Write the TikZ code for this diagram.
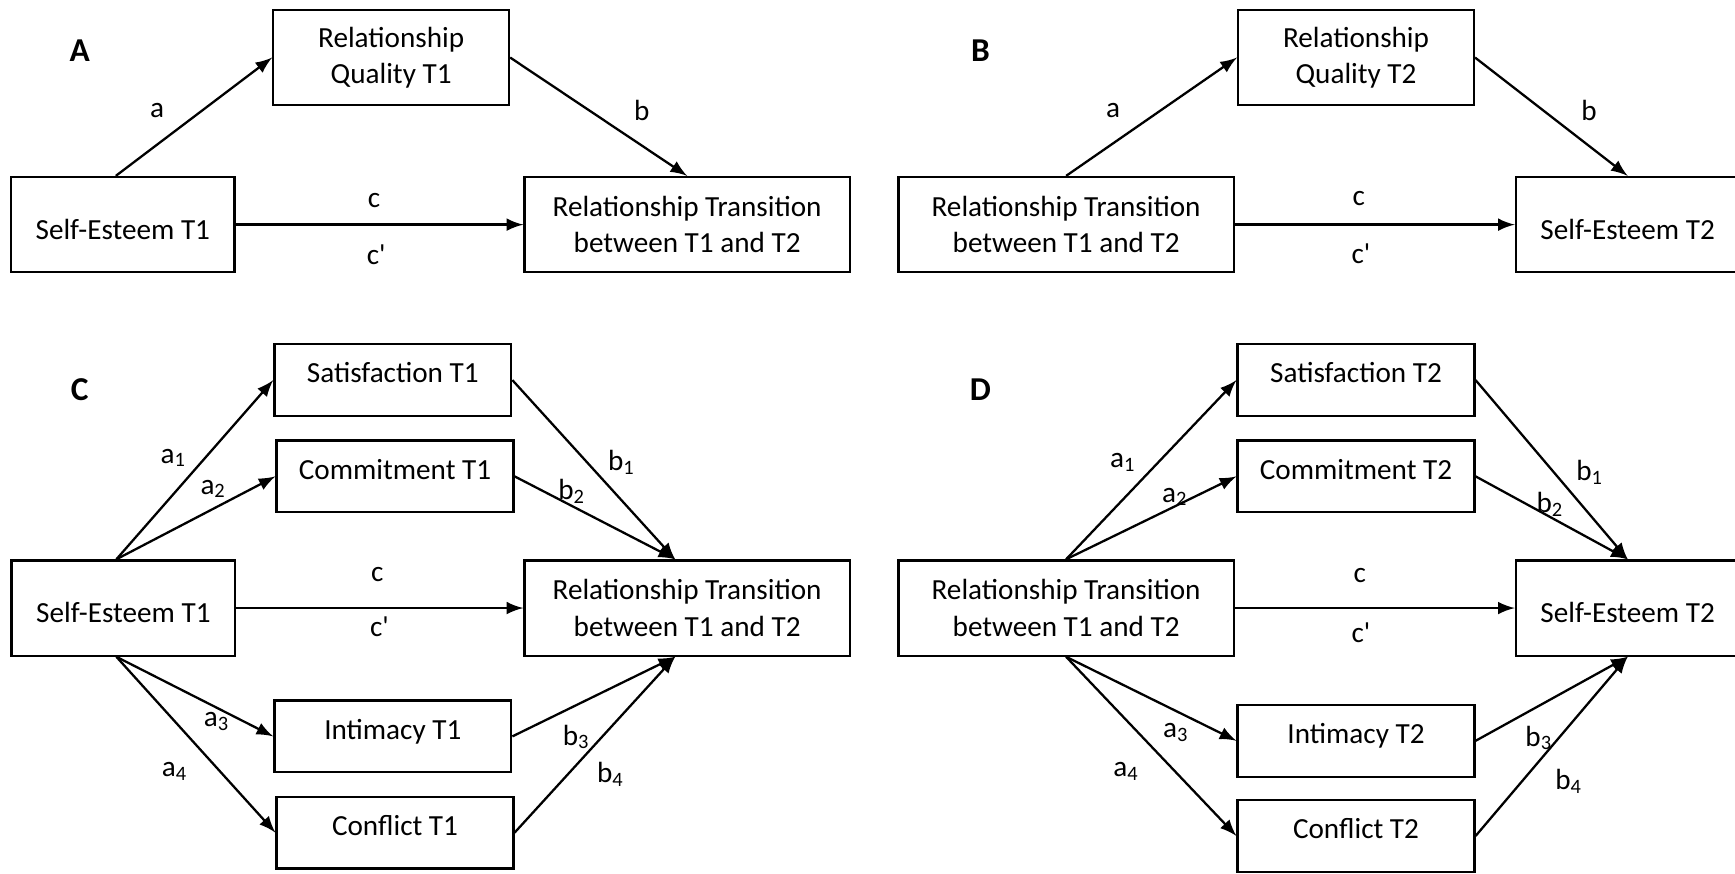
\documentclass[tikz,border=0pt]{standalone}
\usepackage{fontspec}
\setmainfont{Carlito}
\usetikzlibrary{arrows}
\newcommand{\cpr}{c\textquotesingle}

\begin{document}
\begin{tikzpicture}[x=0.011065cm, y=-0.011065cm,
  every node/.style={font=\fontsize{8.3}{10.3}\selectfont},
  box/.style={draw, line width=0.65pt, align=center, inner sep=0pt, minimum height=0.952cm},
  rqbox/.style={box, minimum width=2.357cm},
  sebox/.style={box, minimum width=2.235cm, text height=8.4pt, text depth=0pt},
  rtbox/.style={box, minimum width=#1}, rtbox/.default=3.253cm,
  medbox/.style={box, minimum width=2.368cm, minimum height=0.719cm, text height=6pt, text depth=4.4pt},
  arr/.style={-latex, line width=0.65pt},
  panel/.style={font=\fontsize{9.5}{11}\selectfont\bfseries}]
\clip (0,0) rectangle (1568,789);

% A
\node [panel] (pA) at (72,46) {A};
\node [rqbox] (A-rq) at (353.5,52) {Relationship\\Quality T1};
\node [sebox] (A-se) at (111,203) {Self-Esteem T1};
\node [rtbox] (A-rt) at (621,203) {Relationship Transition\\between T1 and T2};
\draw [arr] ([xshift=-0.07cm]A-se.north) -- (A-rq.west);
\draw [arr] (A-rq.east) -- (A-rt.north);
\draw [arr] (A-se) -- (A-rt);
\node (A-a) at (142,100) {a};
\node (A-b) at (580,100) {b};
\node (A-c) at (338,181) {c};
\node (A-cp) at (340,230) {\cpr};

% B
\node [panel] (pB) at (886,46) {B};
\node [rqbox] (B-rq) at (1225.5,52) {Relationship\\Quality T2};
\node [rtbox=3.353cm] (B-rt) at (963.5,203) {Relationship Transition\\between T1 and T2};
\node [sebox] (B-se) at (1471,203) {Self-Esteem T2};
\draw [arr] (B-rt.north) -- (B-rq.west);
\draw [arr] (B-rq.east) -- (B-se.north);
\draw [arr] (B-rt) -- (B-se);
\node (B-a) at (1006,100) {a};
\node (B-b) at (1436,100) {b};
\node (B-c) at (1228,179) {c};
\node (B-cp) at (1230,229) {\cpr};

% C
\node [panel] (pC) at (72,352) {C};
\node [sebox] (C-se) at (111.5,549.5) {Self-Esteem T1};
\node [rtbox] (C-rt) at (621,549.5) {Relationship Transition\\between T1 and T2};
\node [medbox] (C-sat) at (355,343.5) {Satisfaction T1};
\node [medbox] (C-com) at (357,430.5) {Commitment T1};
\node [medbox] (C-int) at (355,665.5) {Intimacy T1};
\node [medbox] (C-con) at (357,752.5) {Conflict T1};
\coordinate (C-top) at ([xshift=-0.07cm]C-se.north);
\coordinate (C-bot) at ([xshift=-0.07cm]C-se.south);
\coordinate (C-in) at ([xshift=-0.12cm]C-rt.north);
\coordinate (C-out) at ([xshift=-0.12cm]C-rt.south);
\foreach \m in {sat,com} {
\draw [arr] (C-top) -- (C-\m.west);
\draw [arr] (C-\m.east) -- (C-in);
}
\foreach \m in {int,con} {
\draw [arr] (C-bot) -- (C-\m.west);
\draw [arr] (C-\m.east) -- (C-out);
}
\draw [arr] (C-se) -- (C-rt);
\node (C-a1) at (157,414) {a\textsubscript{1}};
\node (C-a2) at (193,442) {a\textsubscript{2}};
\node (C-b1) at (562,418) {b\textsubscript{1}};
\node (C-b2) at (517,444) {b\textsubscript{2}};
\node (C-c) at (341,519) {c};
\node (C-cp) at (343,566) {\cpr};
\node (C-a3) at (196,652) {a\textsubscript{3}};
\node (C-a4) at (158,697) {a\textsubscript{4}};
\node (C-b3) at (521,666) {b\textsubscript{3}};
\node (C-b4) at (552,700) {b\textsubscript{4}};

% D
\node [panel] (pD) at (886,352) {D};
\node [rtbox=3.353cm] (D-rt) at (963.5,549.5) {Relationship Transition\\between T1 and T2};
\node [sebox] (D-se) at (1471,549.5) {Self-Esteem T2};
\node [medbox] (D-sat) at (1225.5,343.5) {Satisfaction T2};
\node [medbox] (D-com) at (1225.5,430.5) {Commitment T2};
\node [medbox] (D-int) at (1225.5,669.5) {Intimacy T2};
\node [medbox] (D-con) at (1225.5,755.5) {Conflict T2};
\foreach \m in {sat,com} {
\draw [arr] (D-rt.north) -- (D-\m.west);
\draw [arr] (D-\m.east) -- (D-se.north);
}
\foreach \m in {int,con} {
\draw [arr] (D-rt.south) -- (D-\m.west);
\draw [arr] (D-\m.east) -- (D-se.south);
}
\draw [arr] (D-rt) -- (D-se);
\node (D-a1) at (1015,418) {a\textsubscript{1}};
\node (D-a2) at (1062,449) {a\textsubscript{2}};
\node (D-b1) at (1437,427) {b\textsubscript{1}};
\node (D-b2) at (1401,456) {b\textsubscript{2}};
\node (D-c) at (1229,520) {c};
\node (D-cp) at (1230,572) {\cpr};
\node (D-a3) at (1063,662) {a\textsubscript{3}};
\node (D-a4) at (1018,697) {a\textsubscript{4}};
\node (D-b3) at (1391,667) {b\textsubscript{3}};
\node (D-b4) at (1418,706) {b\textsubscript{4}};

\end{tikzpicture}
\end{document}
